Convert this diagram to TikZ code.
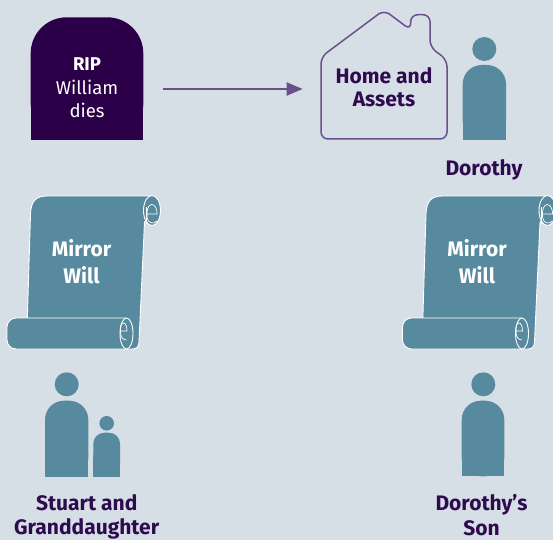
\documentclass[tikz,border=0pt]{standalone}
\usepackage{fontspec}
\setmainfont{Fira Sans}
\usetikzlibrary{arrows.meta}
\definecolor{bgc}{HTML}{D7DFE6}
\definecolor{tealc}{HTML}{578A9E}
\definecolor{tombc}{HTML}{2C0048}
\definecolor{txtc}{HTML}{2E0B4F}
\definecolor{linec}{HTML}{6B4F8B}
\newcommand{\figperson}[8]{%
  \fill[tealc] (#1,#2) circle[radius=#3];
  \fill[tealc,rounded corners=#8] (#4,#5) rectangle (#6,#7);
  \fill[tealc] (#4,{(#5+#7)/2}) rectangle (#6,#7);}
\newcommand{\figscroll}[1]{%
  \begin{scope}[xshift=#1pt]
    \filldraw[scrollbody] (27,330) -- (30.5,214) .. controls (31,201) and (36,196) .. (47,196)
      -- (152,196) -- (152,216) -- (144.5,222) -- (139,342)
      .. controls (138.7,347) and (136.5,349) .. (132,349) -- (27,349) -- cycle;
    \filldraw[scrollbody] (152,210.5) ellipse [x radius=8.5, y radius=15];
    \draw[curl] (147,214) -- (157,214) .. controls (157,207) and (154,204.5) .. (151.5,204.5)
      .. controls (148,205) and (146.5,210) .. (147,217) .. controls (147.5,223) and (153,225) .. (157,221);
    \draw[curl] (146.2,207) -- (146.2,224);
    \filldraw[scrollbody, rounded corners=9pt] (126,318) -- (7,318) -- (7,349) -- (126,349);
    \filldraw[scrollbody] (126.5,333.5) ellipse [x radius=6.5, y radius=15.5];
    \draw[curl] (121,331) -- (127,331) .. controls (127,326) and (125.5,323) .. (123.5,323)
      .. controls (121,323) and (120,327) .. (120.5,333) .. controls (121,337) and (123,340) .. (126.5,340);
  \end{scope}}
\begin{document}
\begin{tikzpicture}[x=1pt,y=-1pt,
  scrollbody/.style={fill=tealc,draw=white,line width=0.9pt},
  curl/.style={draw=white,line width=0.7pt},
  boldlabel/.style={font=\fontsize{21}{24.5}\selectfont\bfseries,text=txtc,align=center,inner sep=0pt},
  willlabel/.style={font=\fontsize{21}{27}\selectfont\bfseries,text=white,align=center,inner sep=0pt},
  tomblabel/.style={font=\fontsize{18.5}{23.5}\selectfont,text=white,align=center,inner sep=0pt},
  arrowline/.style={draw=linec,line width=2pt,-{Triangle[length=16pt,width=13pt]}},
  houseline/.style={draw=linec,line width=1.5pt,rounded corners=7pt}]
\fill[bgc] (0,0) rectangle (553,540);
\useasboundingbox (0,0) rectangle (553,540);
% tombstone
\fill[tombc,rounded corners=36pt] (30.7,17.3) rectangle (143.3,140);
\fill[tombc] (30.7,80) rectangle (143.3,140);
\node[tomblabel] (tomb) at (87,88) {\textbf{RIP}\\William\\dies};
% arrow
\coordinate (arrS) at (163,89);
\coordinate (arrE) at (302.7,89);
\draw[arrowline] (arrS) -- (arrE);
% house
\draw[houseline] (321,139) -- (321,57) -- (384,10) -- (410.7,30) -- (410.7,14.7) -- (430,14.7)
  -- (430,47) -- (447,59.8) -- (447,139) -- cycle;
\node[boldlabel,font=\fontsize{21}{23}\selectfont\bfseries] (house) at (384,87.5) {Home and\\Assets};
% Dorothy
\figperson{484.3}{49}{12}{462.7}{65}{506}{140}{19pt}
\node[boldlabel,anchor=base] (dorothy) at (484,175.5) {Dorothy};
% scrolls
\figscroll{0}
\figscroll{395.5}
\node[willlabel] (willL) at (81.5,262) {Mirror\\Will};
\node[willlabel] (willR) at (477,262) {Mirror\\Will};
% Stuart and granddaughter
\figperson{66.7}{384.3}{12}{45}{400.7}{88.3}{476.7}{19pt}
\figperson{106.7}{423.3}{7.3}{93.3}{432.7}{120}{476.7}{11pt}
\node[boldlabel] (stuart) at (86.7,517) {Stuart and\\Granddaughter};
% son
\figperson{483.3}{384.3}{12}{461.7}{400.7}{504.3}{476.3}{19pt}
\node[boldlabel] (son) at (481.5,515) {Dorothy’s\\Son};
\end{tikzpicture}
\end{document}
